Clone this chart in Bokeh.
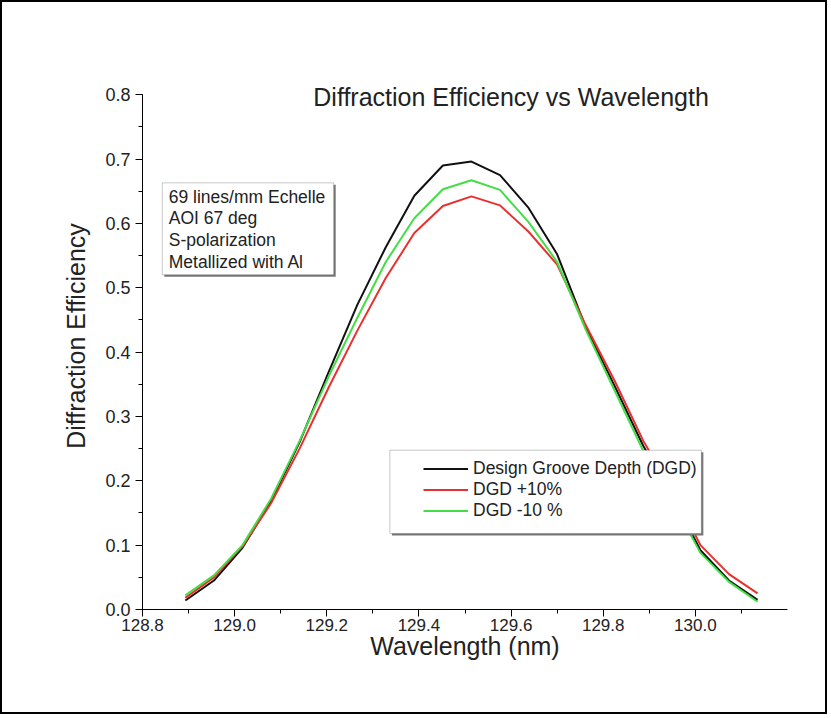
from bokeh.plotting import figure
from bokeh.models import (Range1d, SingleIntervalTicker, NumeralTickFormatter, Label,
                          BoxAnnotation, Legend, LegendItem)
from bokeh.embed import file_html
from bokeh.resources import INLINE

# ---- data ----
wavelength = [128.893, 128.955, 129.017, 129.079, 129.141, 129.204, 129.266, 129.328,
              129.390, 129.452, 129.514, 129.576, 129.638, 129.700, 129.762, 129.825,
              129.887, 129.949, 130.011, 130.073, 130.135]
dgd = [0.014, 0.045, 0.096, 0.168, 0.260, 0.369, 0.473, 0.563, 0.643, 0.690, 0.696,
       0.675, 0.624, 0.552, 0.439, 0.347, 0.254, 0.178, 0.092, 0.045, 0.015]
dgd_plus10 = [0.018, 0.050, 0.098, 0.165, 0.250, 0.345, 0.433, 0.515, 0.585, 0.627, 0.642,
              0.628, 0.587, 0.536, 0.442, 0.355, 0.262, 0.187, 0.100, 0.055, 0.025]
dgd_minus10 = [0.022, 0.053, 0.100, 0.172, 0.262, 0.362, 0.453, 0.540, 0.608, 0.653, 0.667,
               0.652, 0.602, 0.540, 0.435, 0.340, 0.246, 0.170, 0.088, 0.043, 0.012]
series_names = ["Design Groove Depth (DGD)", "DGD +10%", "DGD -10 %"]
note_lines = ["69 lines/mm Echelle", "AOI 67 deg", "S-polarization", "Metallized with Al"]
title_text = "Diffraction Efficiency vs Wavelength"

FONT = "Liberation Sans"

p = figure(width=827, height=714, output_backend="svg", toolbar_location=None,
           x_range=Range1d(128.8, 130.2), y_range=Range1d(0.0, 0.85),
           min_border_left=140, min_border_right=42, min_border_top=60, min_border_bottom=107)
p.styles = {"border": "2px solid black"}
p.outline_line_color = None
p.grid.visible = False
p.background_fill_color = "white"
p.border_fill_color = "white"

p.xaxis.ticker = SingleIntervalTicker(interval=0.2, num_minor_ticks=2)
p.yaxis.ticker = SingleIntervalTicker(interval=0.1, num_minor_ticks=2)
p.yaxis.bounds = (0.0, 0.8)
p.xaxis.formatter = NumeralTickFormatter(format="0.0")
p.yaxis.formatter = NumeralTickFormatter(format="0.0")
for ax in (p.xaxis, p.yaxis):
    ax.axis_line_color = "black"
    ax.axis_line_width = 1
    ax.major_tick_line_color = "black"
    ax.minor_tick_line_color = "black"
    ax.major_tick_in = 0
    ax.major_tick_out = 7
    ax.minor_tick_in = 0
    ax.minor_tick_out = 4
    ax.major_label_text_font = FONT
    ax.major_label_text_font_size = "17px"
    ax.major_label_text_color = "#222222"
    ax.axis_label_text_font = FONT
    ax.axis_label_text_font_size = "25px"
    ax.axis_label_text_font_style = "normal"
    ax.axis_label_text_color = "#222222"
p.yaxis.major_label_text_font_size = "18px"
p.xaxis.axis_label = "Wavelength (nm)"
p.yaxis.axis_label = "Diffraction Efficiency"
p.xaxis.major_label_standoff = 2
p.yaxis.major_label_standoff = 5
p.xaxis.axis_label_standoff = -2
p.yaxis.axis_label_standoff = 12

colors = ["#111111", "#e8302f", "#45dd45"]
r_black = p.line(wavelength, dgd, line_color=colors[0], line_width=2)
r_red = p.line(wavelength, dgd_plus10, line_color=colors[1], line_width=2)
r_green = p.line(wavelength, dgd_minus10, line_color=colors[2], line_width=2)
renderers = [r_black, r_red, r_green]

# title inside plot area
p.add_layout(Label(x=129.6, y=0.797, text=title_text, text_align="center",
                   text_baseline="middle", text_font=FONT, text_font_size="25px",
                   text_color="#222222"))

dx, dy = 2 / 460.0, 2 / 642.5

# note box with slight shadow
nl, nr, nt, nb = 128.843, 129.215, 0.663, 0.520
p.add_layout(BoxAnnotation(left=nl + dx, right=nr + dx, top=nt - dy, bottom=nb - dy,
                           fill_color="#777777", fill_alpha=1.0, line_color=None, level="guide"))
p.add_layout(BoxAnnotation(left=nl, right=nr, top=nt, bottom=nb,
                           fill_color="white", fill_alpha=1.0, line_color="#444444",
                           line_width=1, level="guide"))
note_y = [0.641, 0.608, 0.574, 0.540]
for txt, yy in zip(note_lines, note_y):
    p.add_layout(Label(x=128.857, y=yy, text=txt, text_align="left", text_baseline="middle",
                       text_font=FONT, text_font_size="17.5px", text_color="#222222"))

# legend box with slight shadow
ll, lr, lt, lb = 129.337, 130.013, 0.2475, 0.118
p.add_layout(BoxAnnotation(left=ll + dx, right=lr + dx, top=lt - dy, bottom=lb - dy,
                           fill_color="#777777", fill_alpha=1.0, line_color=None, level="guide"))
p.add_layout(BoxAnnotation(left=ll, right=lr, top=lt, bottom=lb,
                           fill_color="white", fill_alpha=1.0, line_color="#444444",
                           line_width=1, level="guide"))
legend = Legend(items=[LegendItem(label=n, renderers=[r]) for n, r in zip(series_names, renderers)],
                location=(281, 88), padding=0, spacing=0, margin=0,
                label_height=21, glyph_height=21, glyph_width=45, label_standoff=5,
                label_text_font=FONT, label_text_font_size="17.5px", label_text_color="#222222",
                background_fill_alpha=0, border_line_alpha=0)
p.add_layout(legend, "center")

open("out.html", "w").write(file_html(p, INLINE))
